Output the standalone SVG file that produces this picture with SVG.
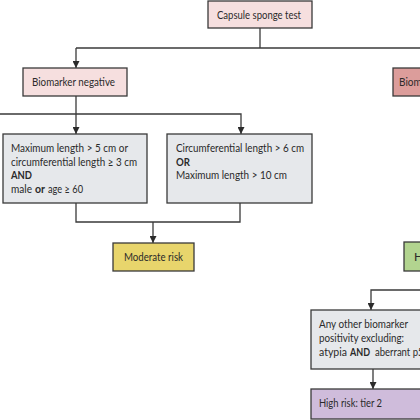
<svg xmlns="http://www.w3.org/2000/svg" width="420" height="420" viewBox="0 0 420 420">
<defs>
<marker id="ah" viewBox="0 0 10 10" refX="10" refY="5" markerWidth="7" markerHeight="7" markerUnits="userSpaceOnUse" orient="auto">
<path d="M0,0 L10,5 L0,10 z" fill="#2b2b2b"/>
</marker>
<style>
.box{stroke:#3a3a3a;stroke-width:1.3}
.t{font-family:Lato,"Open Sans","Liberation Sans",sans-serif;font-size:12px;fill:#2a2a2a}
.b{font-weight:bold}
.c{fill:none;stroke:#3a3a3a;stroke-width:1.3}
.pink{fill:#f6dfdf}
.pos{fill:#dc9d9b}
.gray{fill:#e6e8eb}
.yel{fill:#e8d56c}
.grn{fill:#b2d48f}
.pur{fill:#cfbcdb}
</style>
</defs>
<rect width="420" height="420" fill="#ffffff"/>
<g id="connectors">
<path class="c" d="M260,28 V48"/>
<path class="c" d="M76,48 H420"/>
<path class="c" d="M76,48 V68" marker-end="url(#ah)"/>
<path class="c" d="M76,96 V134" marker-end="url(#ah)"/>
<path class="c" d="M0,114 H241 V134" marker-end="url(#ah)"/>
<path class="c" d="M76,203 V222 H240 V203"/>
<path class="c" d="M153,222 V243" marker-end="url(#ah)"/>
<path class="c" d="M420,290 H371 V310" marker-end="url(#ah)"/>
<path class="c" d="M373,369 V389" marker-end="url(#ah)"/>
</g>
<g id="capsule">
<rect class="box pink" x="208" y="1" width="104" height="27"/>
<text class="t" x="217" y="18.5" textLength="84" lengthAdjust="spacingAndGlyphs">Capsule sponge test</text>
</g>
<g id="biomarker-negative">
<rect class="box pink" x="23" y="68" width="104" height="28"/>
<text class="t" x="32" y="86" textLength="83" lengthAdjust="spacingAndGlyphs">Biomarker negative</text>
</g>
<g id="biomarker-positive">
<rect class="box pos" x="393" y="68" width="40" height="28"/>
<text class="t" x="399" y="86" textLength="82" lengthAdjust="spacingAndGlyphs">Biomarker positive</text>
</g>
<g id="criteria-left">
<rect class="box gray" x="3" y="134" width="144" height="69"/>
<text class="t" x="11" y="152" textLength="117" lengthAdjust="spacingAndGlyphs">Maximum length &gt; 5 cm or</text>
<text class="t" x="11" y="165.5" textLength="126" lengthAdjust="spacingAndGlyphs">circumferential length ≥ 3 cm</text>
<text class="t b" x="11" y="179" textLength="21" lengthAdjust="spacingAndGlyphs">AND</text>
<text class="t" x="11" y="193" textLength="21" lengthAdjust="spacingAndGlyphs">male</text>
<text class="t b" x="35" y="193" textLength="10" lengthAdjust="spacingAndGlyphs">or</text>
<text class="t" x="48" y="193" textLength="35" lengthAdjust="spacingAndGlyphs">age ≥ 60</text>
</g>
<g id="criteria-right">
<rect class="box gray" x="167" y="134" width="145" height="69"/>
<text class="t" x="176" y="152" textLength="128" lengthAdjust="spacingAndGlyphs">Circumferential length &gt; 6 cm</text>
<text class="t b" x="176" y="165.5" textLength="14" lengthAdjust="spacingAndGlyphs">OR</text>
<text class="t" x="176" y="179" textLength="111" lengthAdjust="spacingAndGlyphs">Maximum length &gt; 10 cm</text>
</g>
<g id="moderate-risk">
<rect class="box yel" x="113" y="243" width="81" height="28"/>
<text class="t" x="124" y="261" textLength="59" lengthAdjust="spacingAndGlyphs">Moderate risk</text>
</g>
<g id="high-green">
<rect class="box grn" x="404" y="242" width="40" height="29"/>
<text class="t" x="414" y="261">H</text>
</g>
<g id="other-biomarker">
<rect class="box gray" x="311" y="310" width="130" height="59"/>
<text class="t" x="319" y="328" textLength="89" lengthAdjust="spacingAndGlyphs">Any other biomarker</text>
<text class="t" x="319" y="342" textLength="85" lengthAdjust="spacingAndGlyphs">positivity excluding:</text>
<text class="t" x="319" y="355.5" textLength="28" lengthAdjust="spacingAndGlyphs">atypia</text>
<text class="t b" x="350" y="355.5" textLength="20" lengthAdjust="spacingAndGlyphs">AND</text>
<text class="t" x="375" y="355.5" textLength="54" lengthAdjust="spacingAndGlyphs">aberrant p53</text>
</g>
<g id="high-risk-tier2">
<rect class="box pur" x="311" y="389" width="130" height="30"/>
<text class="t" x="319" y="407" textLength="63" lengthAdjust="spacingAndGlyphs">High risk: tier 2</text>
</g>
</svg>
